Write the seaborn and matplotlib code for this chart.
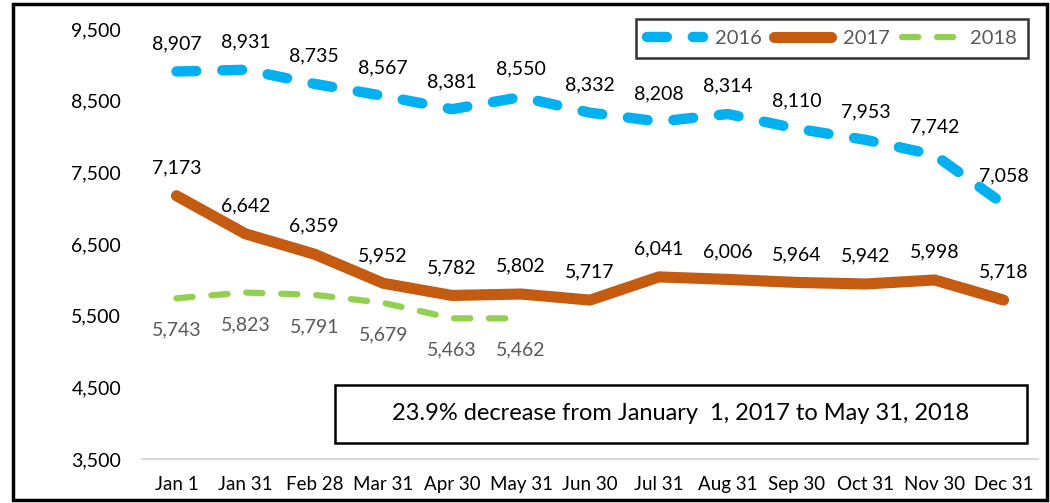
import matplotlib
matplotlib.use("Agg")
import matplotlib.pyplot as plt
import matplotlib.patches as mpatches
from matplotlib.lines import Line2D
from matplotlib.ticker import FuncFormatter
import seaborn as sns

# Monthly counts by year
dates = ["Jan 1", "Jan 31", "Feb 28", "Mar 31", "Apr 30", "May 31", "Jun 30",
         "Jul 31", "Aug 31", "Sep 30", "Oct 31", "Nov 30", "Dec 31"]
v2016 = [8907, 8931, 8735, 8567, 8381, 8550, 8332, 8208, 8314, 8110, 7953, 7742, 7058]
v2017 = [7173, 6642, 6359, 5952, 5782, 5802, 5717, 6041, 6006, 5964, 5942, 5998, 5718]
v2018 = [5743, 5823, 5791, 5679, 5463, 5462]
years = ["2016", "2017", "2018"]
y_ticks = [3500, 4500, 5500, 6500, 7500, 8500, 9500]
note = "23.9% decrease from January  1, 2017 to May 31, 2018"

sns.set_style("white")
plt.rcParams["font.family"] = ["Lato", "DejaVu Sans"]

C16, C17, C18 = "#00B0F0", "#C55A11", "#92D050"
W, H = 1050, 503
fig = plt.figure(figsize=(W / 100, H / 100), dpi=100)
ax = fig.add_axes([142 / W, 1 - 459 / H, (1038 - 142) / W, (459 - 29) / H])

styles = {
    "2016": dict(color=C16, lw=7.5, linestyle=(0, (1.9, 2.5)), dash_capstyle="round"),
    "2017": dict(color=C17, lw=8, linestyle="-", solid_capstyle="round", solid_joinstyle="round"),
    "2018": dict(color=C18, lw=4.5, linestyle=(0, (2.6, 3.0)), dash_capstyle="round"),
}
series = {"2016": v2016, "2017": v2017, "2018": v2018}

for yr in years:
    vals = series[yr]
    xs = list(range(len(vals)))
    sns.lineplot(x=xs, y=vals, ax=ax, **styles[yr])

LBL = 14
# Data labels
for i, v in enumerate(v2016):
    ax.annotate(f"{v:,}", (i, v), xytext=(0, 20), textcoords="offset points",
                ha="center", va="center", fontsize=LBL, color="black")
for i, v in enumerate(v2017):
    ax.annotate(f"{v:,}", (i, v), xytext=(0, 20), textcoords="offset points",
                ha="center", va="center", fontsize=LBL, color="black")
for i, v in enumerate(v2018):
    ax.annotate(f"{v:,}", (i, v), xytext=(0, -23), textcoords="offset points",
                ha="center", va="center", fontsize=LBL, color="#595959")

ax.set_xlim(-0.5, len(dates) - 0.5)
ax.set_ylim(y_ticks[0], y_ticks[-1])
ax.set_xticks(range(len(dates)))
ax.set_xticklabels(dates)
ax.set_yticks(y_ticks)
ax.yaxis.set_major_formatter(FuncFormatter(lambda v, p: f"{int(v):,}"))
ax.tick_params(axis="x", length=0, pad=12, labelsize=13.5, labelcolor="black")
ax.tick_params(axis="y", length=0, pad=15, labelsize=14, labelcolor="black")
ax.set_xlabel("")
ax.set_ylabel("")
for s in ["top", "right", "left"]:
    ax.spines[s].set_visible(False)
ax.spines["bottom"].set_color("#D9D9D9")
ax.spines["bottom"].set_linewidth(1.5)

# Legend
handles = [Line2D([], [], **styles[yr]) for yr in years]
leg = fig.legend(handles, years, loc="upper right",
                 bbox_to_anchor=(1028 / W, 1 - 19 / H), ncol=3, fontsize=14.5,
                 frameon=True, fancybox=False, handlelength=2.8,
                 handletextpad=0.6, columnspacing=0.6, borderpad=0.55,
                 borderaxespad=0)
leg.get_frame().set_edgecolor("black")
leg.get_frame().set_linewidth(1.8)
for t in leg.get_texts():
    t.set_color("#595959")

# Summary note box
fig.patches.append(mpatches.Rectangle((335 / W, 1 - 443 / H), (1027 - 335) / W, (443 - 385) / H,
                                      transform=fig.transFigure, fill=False,
                                      edgecolor="black", linewidth=1.8))
fig.text(681 / W, 1 - 414 / H, note, ha="center", va="center", fontsize=17, color="black")

# Outer frame
fig.patches.append(mpatches.Rectangle((13 / W, 1 - 500 / H), (1047 - 13) / W, (500 - 4) / H,
                                      transform=fig.transFigure, fill=False,
                                      edgecolor="black", linewidth=2.5))

fig.savefig("out.png", dpi=100)
